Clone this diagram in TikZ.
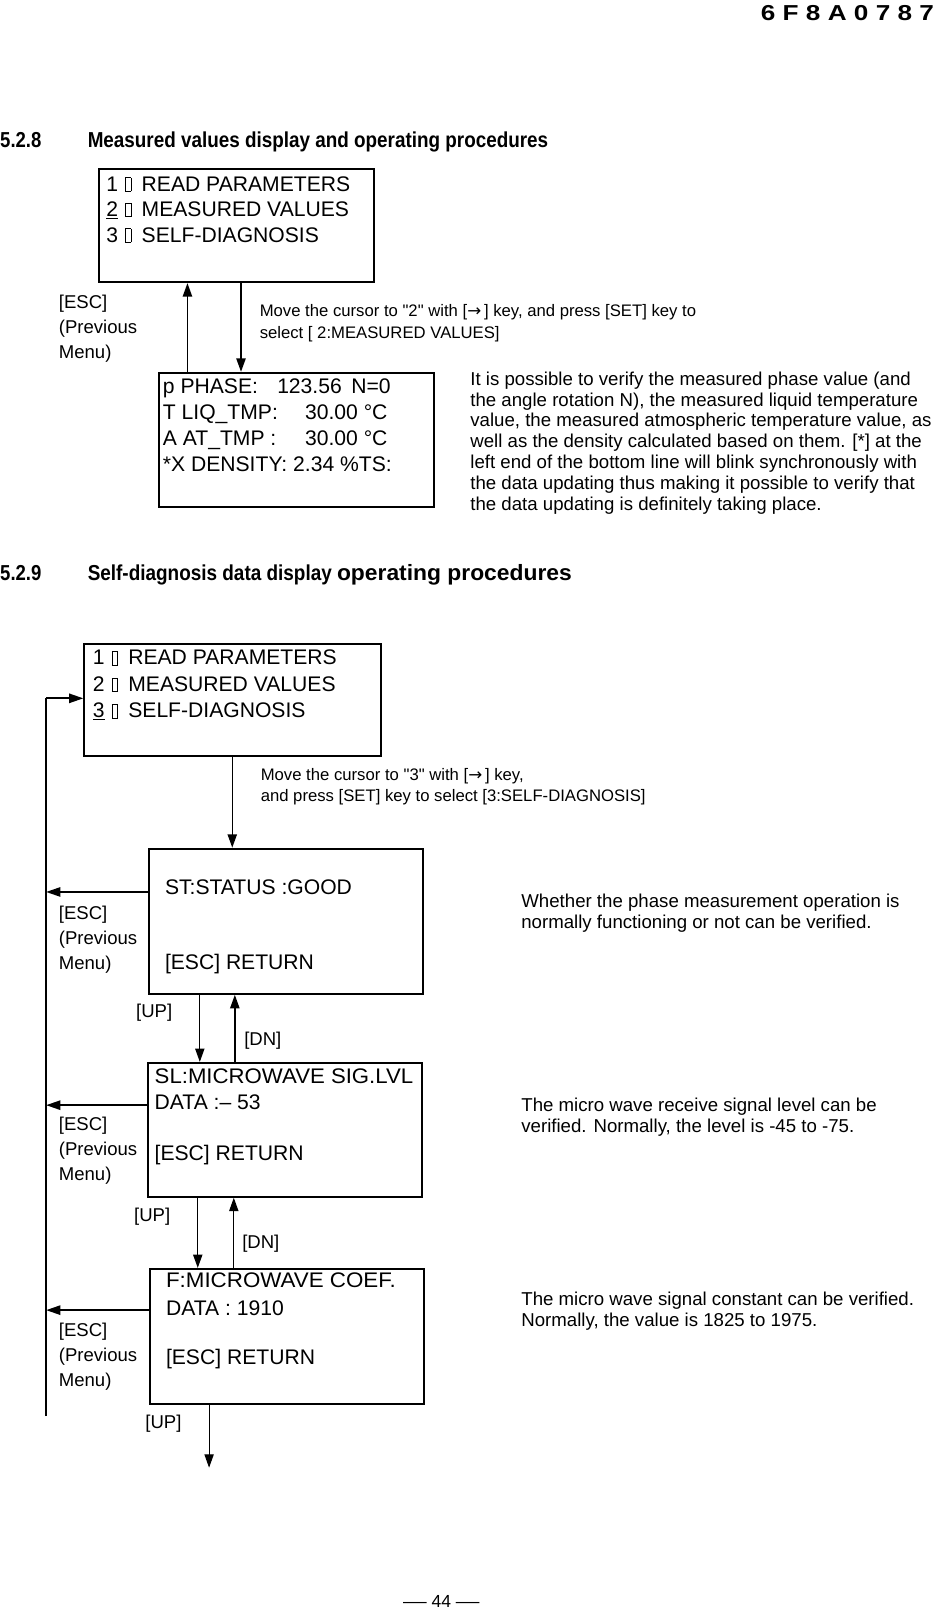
\documentclass[tikz,border=0pt]{standalone}
\usepackage{fontspec}
\setmainfont{Liberation Sans}[Ligatures=TeXOff]
\newfontfamily\dejavu{DejaVu Sans}
\usetikzlibrary{arrows.meta}
\newcommand\tofu{\kern7pt{\setlength\fboxsep{0pt}\setlength\fboxrule{0.7pt}\fbox{\rule{0pt}{12.5pt}\rule{4.6pt}{0pt}}}\kern10pt}
\newcommand\rarr{{\dejavu →}}
\newcommand\hfit[2]{\resizebox{#1}{\height}{#2}}
\tikzset{
  panel/.style={draw, line width=1.9pt, inner sep=0pt, anchor=north west},
  lcd/.style={anchor=base west, inner sep=0pt, font=\fontsize{20.5}{24}\selectfont},
  note/.style={anchor=base west, inner sep=0pt, font=\fontsize{18.1}{20}\selectfont},
  movetxt/.style={anchor=base west, inner sep=0pt, font=\fontsize{16.2}{19}\selectfont},
  esc/.style={anchor=base west, inner sep=0pt, font=\fontsize{18}{21}\selectfont},
  head/.style={anchor=base west, inner sep=0pt, font=\fontsize{21}{24}\selectfont\bfseries},
  flow/.style={line width=1.4pt, -{Triangle[length=13pt,width=9pt]}},
  thinflow/.style={line width=1.1pt, -{Triangle[length=13pt,width=9pt]}},
  escflow/.style={line width=2pt, -{Triangle[length=14pt,width=9pt]}},
  rail/.style={line width=1.6pt},
}
\newcommand\esclabel[2]{%
  \node[esc] (#1a) at (57,#2) {[ESC]};
  \node[esc] (#1b) at (57,#2+24) {(Previous};
  \node[esc] (#1c) at (57,#2+48.5) {Menu)};
}
\begin{document}
\begin{tikzpicture}[x=1pt,y=-1pt]
\useasboundingbox (0,0) rectangle (910.7,1568);

% page header
\node[head, anchor=base east] (hdr) at (907,19.5) {\hfit{168pt}{6 F 8 A 0 7 8 7}};

% ---------- 5.2.8 ----------
\node[head] (h1n) at (0,143.5) {\hfit{40pt}{5.2.8}};
\node[head] (h1t) at (85,143.5) {\hfit{447pt}{Measured values display and operating procedures}};

\node[panel, minimum width=267pt, minimum height=110pt] (m1) at (95,163) {};
\node[lcd] (m1a) at (103,185.5) {1\tofu READ PARAMETERS};
\node[lcd] (m1b) at (103,210) {\underline{2}\tofu MEASURED VALUES};
\node[lcd] (m1c) at (103,235) {3\tofu SELF-DIAGNOSIS};

\node[panel, minimum width=267pt, minimum height=130pt] (v1) at (153,361) {};
\node[lcd] (v1a) at (158,381.6) {\makebox[111pt][l]{p PHASE:}\makebox[72pt][l]{123.56}N=0};
\node[lcd] (v1b) at (158,407) {\makebox[138pt][l]{T LIQ\_TMP:}30.00 °C};
\node[lcd] (v1c) at (158,433) {\makebox[138pt][l]{A AT\_TMP :}30.00 °C};
\node[lcd] (v1d) at (158,458) {*X DENSITY: 2.34 \%TS:};

\draw[flow] ([xshift=29pt]v1.north west) -- ([xshift=87pt]m1.south west);
\draw[flow] ([xshift=139pt]m1.south west) -- ([xshift=81pt]v1.north west);

\esclabel{e0}{300}
\node[movetxt] (mv1a) at (252,307.5) {Move the cursor to "2" with [\rarr\,] key, and press [SET] key to};
\node[movetxt] (mv1b) at (252,328.5) {select [ 2:MEASURED VALUES]};

\foreach \t [count=\i] in {%
  {It is possible to verify the measured phase value (and},
  {the angle rotation N), the measured liquid temperature},
  {value, the measured atmospheric temperature value, as},
  {well as the density calculated based on them. [*] at the},
  {left end of the bottom line will blink synchronously with},
  {the data updating thus making it possible to verify that},
  {the data updating is definitely taking place.}}
  \node[note] (par-\i) at (456.5,{374+20.2*(\i-1)}) {\t};

% ---------- 5.2.9 ----------
\node[head] (h2n) at (0,563.5) {\hfit{40pt}{5.2.9}};
\node[head] (h2t) at (85,563.5) {\hfit{237pt}{Self-diagnosis data display}};
\node[head, font=\fontsize{21.5}{24}\selectfont\bfseries] (h2u) at (327,563.5) {\hfit{228pt}{operating procedures}};

\node[panel, minimum width=288pt, minimum height=109pt] (m2) at (81,624) {};
\node[lcd] (m2a) at (90,645.5) {1\tofu READ PARAMETERS};
\node[lcd] (m2b) at (90,671) {2\tofu MEASURED VALUES};
\node[lcd] (m2c) at (90,697) {\underline{3}\tofu SELF-DIAGNOSIS};

\coordinate (rt) at (44.7,678);
\coordinate (rb) at (44.7,1375);
\draw[rail] (rb) -- (rt);
\draw[escflow] (rt) -- (m2.west |- rt);

\node[movetxt] (mv2a) at (253,757.5) {Move the cursor to "3" with [\rarr\,] key,};
\node[movetxt] (mv2b) at (253,778.5) {and press [SET] key to select [3:SELF-DIAGNOSIS]};

% status screen
\node[panel, minimum width=266pt, minimum height=141pt] (s1) at (144,823) {};
\node[lcd] (s1a) at (160,868) {ST:STATUS :GOOD};
\node[lcd] (s1b) at (160,941) {[ESC] RETURN};
\draw[flow] ([xshift=144.5pt]m2.south west) -- ([xshift=81.5pt]s1.north west);

% signal level screen
\node[panel, minimum width=266pt, minimum height=130pt] (s2) at (143,1031) {};
\node[lcd] (s2a) at (150,1052) {\hfit{251pt}{SL:MICROWAVE SIG.LVL}};
\node[lcd] (s2b) at (150,1077) {DATA :– 53};
\node[lcd] (s2c) at (150,1127) {[ESC] RETURN};

% coefficient screen
\node[panel, minimum width=266pt, minimum height=131pt] (s3) at (145,1231) {};
\node[lcd] (s3a) at (161,1250) {\hfit{223pt}{F:MICROWAVE COEF.}};
\node[lcd] (s3b) at (161,1277) {DATA : 1910};
\node[lcd] (s3c) at (161,1325) {[ESC] RETURN};

% ESC returns
\coordinate (s1e) at ([yshift=-43pt]s1.north west);
\coordinate (s2e) at ([yshift=-42pt]s2.north west);
\coordinate (s3e) at ([yshift=-41pt]s3.north west);
\draw[escflow] (s1e) -- (rt |- s1e);
\draw[escflow] (s2e) -- (rt |- s2e);
\draw[escflow] (s3e) -- (rt |- s3e);
\esclabel{e1}{893}
\esclabel{e2}{1097.5}
\esclabel{e3}{1297.5}

% UP / DN
\draw[thinflow] ([xshift=50pt]s1.south west) -- ([xshift=51pt]s2.north west);
\draw[flow] ([xshift=85pt]s2.north west) -- ([xshift=84pt]s1.south west);
\node[esc] (up1) at (132,988) {[UP]};
\node[esc] (dn1) at (237,1015) {[DN]};

\draw[flow] ([xshift=49pt]s2.south west) -- ([xshift=47pt]s3.north west);
\draw[thinflow] ([xshift=82pt]s3.north west) -- ([xshift=84pt]s2.south west);
\node[esc] (up2) at (130,1185.5) {[UP]};
\node[esc] (dn2) at (235,1212.5) {[DN]};

\coordinate (endb) at (203,1425);
\draw[thinflow] ([xshift=58pt]s3.south west) -- (endb);
\node[esc] (up3) at (141,1386.5) {[UP]};

% notes
\node[note] (n1a) at (506,881.5) {Whether the phase measurement operation is};
\node[note] (n1b) at (506,901.5) {normally functioning or not can be verified.};
\node[note] (n2a) at (506,1079.5) {The micro wave receive signal level can be};
\node[note] (n2b) at (506,1099.5) {verified. Normally, the level is -45 to -75.};
\node[note] (n3a) at (506,1267.5) {The micro wave signal constant can be verified.};
\node[note] (n3b) at (506,1287.5) {Normally, the value is 1825 to 1975.};

% page number
\node[anchor=base, inner sep=0pt, font=\fontsize{17}{20}\selectfont] (pg) at (428.5,1561)
  {\scalebox{1.35}[1]{—}\ 44\ \scalebox{1.35}[1]{—}};
\end{tikzpicture}
\end{document}
